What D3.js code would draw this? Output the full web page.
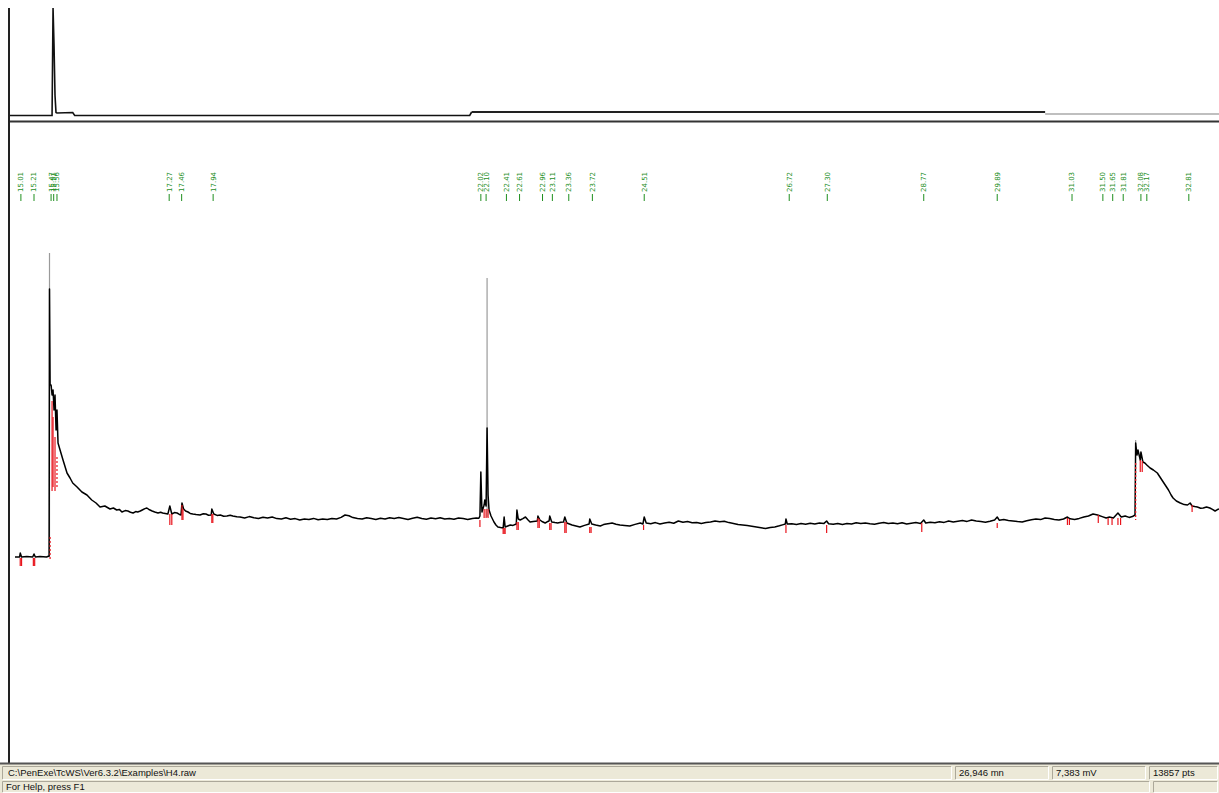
<!DOCTYPE html>
<html>
<head>
    <title>H4.raw chromatogram</title>
    <script src="https://d3js.org/d3.v7.min.js"></script>
    <style>
        body {
            margin: 0;
            background: #fff;
            overflow: hidden;
        }
        svg {
            display: block;
        }
        .peak-label {
            font-family: "DejaVu Sans", sans-serif;
            font-size: 7px;
            fill: #1f8f1f;
        }
        .status-text {
            font-family: "Liberation Sans", Arial, sans-serif;
            font-size: 9.5px;
            fill: #111;
        }
    </style>
</head>
<body>
    <div id="vis-container"></div>

    <script>
        const width = 1219;
        const height = 793;

        // main trace: [retention time (min), signal (mV)]
        const mainTrace = [
            [14.92,0],[14.99,0],[15.00,0.2],[15.02,0],[15.10,0.02],[15.19,0],[15.21,0.15],[15.23,0],[15.30,0.02],[15.40,0],[15.44,0.05],
            [15.446,13.4],[15.455,8.6],[15.47,8.6],[15.485,8.1],[15.50,8.35],[15.515,7.35],[15.53,8.1],[15.546,6.35],[15.56,7.35],[15.576,5.7],
            [15.607,5.35],[15.652,4.85],[15.713,4.2],[15.759,3.95],[15.80,3.7],[15.866,3.5],[15.94,3.25],[16.017,3.1],[16.09,2.85],[16.155,2.7],
            [16.216,2.5],[16.29,2.55],[16.368,2.4],[16.42,2.45],[16.47,2.35],[16.51,2.38],[16.55,2.25],[16.60,2.32],[16.64,2.3],[16.68,2.24],
            [16.72,2.2],[16.76,2.27],[16.79,2.25],[16.83,2.3],[16.86,2.35],[16.90,2.42],[16.93,2.45],[16.97,2.36],[17.01,2.3],[17.05,2.25],
            [17.10,2.2],[17.14,2.24],[17.17,2.2],[17.21,2.18],[17.25,2.15],[17.28,2.55],[17.31,2.15],[17.35,2.22],[17.39,2.2],[17.42,2.14],
            [17.45,2.1],[17.465,2.7],[17.49,2.4],[17.52,2.3],[17.557,2.25],[17.59,2.18],[17.63,2.15],[17.68,2.12],[17.74,2.1],[17.79,2.16],
            [17.83,2.15],[17.87,2.09],[17.91,2.1],[17.92,2.4],[17.95,2.15],[18.00,2.08],[18.05,2.1],[18.10,2.04],[18.15,2.05],[18.20,2.09],
            [18.24,2.05],[18.30,2.01],
            [18.35,2.0],[18.42,1.95],[18.49,2.02],[18.56,1.96],[18.63,1.93],[18.70,1.99],[18.77,1.95],[18.84,2.0],[18.91,1.92],[18.98,1.9],
            [19.05,1.96],[19.12,1.89],[19.19,1.92],[19.26,1.85],[19.33,1.9],[19.40,1.88],[19.47,1.93],[19.54,1.86],[19.61,1.9],[19.68,1.87],
            [19.75,1.93],[19.82,1.9],[19.89,1.98],[19.95,2.1],[20.01,2.06],[20.07,1.97],[20.14,1.92],[20.21,1.9],[20.28,1.96],[20.35,1.93],
            [20.42,1.88],[20.49,1.94],[20.56,1.9],[20.63,1.96],[20.70,1.92],[20.77,1.97],[20.84,1.93],[20.91,1.88],[20.98,1.94],[21.05,1.99],
            [21.12,1.93],[21.19,1.89],[21.26,1.95],[21.33,1.91],[21.40,1.96],[21.47,1.9],[21.54,1.93],[21.61,1.89],[21.68,1.95],[21.75,1.92],
            [21.82,1.88],[21.89,1.93],[21.95,1.95],[21.99,1.94],
            [22.006,2.05],[22.02,4.25],[22.037,2.25],[22.07,2.6],[22.08,2.85],[22.10,2.55],[22.115,6.45],[22.13,3.1],[22.145,2.35],[22.175,2.05],
            [22.22,1.75],[22.25,1.6],[22.28,1.5],[22.32,1.47],[22.36,1.45],[22.375,2.0],[22.39,1.5],[22.43,1.55],[22.47,1.6],[22.51,1.58],
            [22.56,1.65],[22.57,2.35],[22.59,1.9],[22.62,1.85],[22.66,1.92],[22.70,2.0],[22.74,1.85],[22.77,1.75],[22.82,1.78],[22.88,1.8],
            [22.89,2.05],[22.92,1.85],[22.96,1.76],[23.00,1.7],[23.03,1.76],[23.06,1.8],[23.07,2.05],[23.10,1.75],[23.15,1.72],[23.19,1.7],
            [23.24,1.74],[23.28,1.75],[23.30,2.0],[23.33,1.7],[23.37,1.65],[23.41,1.6],[23.47,1.55],[23.53,1.5],[23.60,1.58],[23.67,1.65],
            [23.68,1.9],[23.71,1.65],[23.77,1.6],[23.84,1.55],[23.89,1.62],[23.93,1.65],[23.98,1.68],[24.02,1.7],[24.08,1.64],[24.14,1.6],
            [24.21,1.58],[24.29,1.55],[24.37,1.63],[24.45,1.7],[24.49,1.65],[24.51,2.0],
            [24.54,1.7],[24.61,1.66],[24.68,1.72],[24.75,1.65],[24.82,1.7],[24.89,1.74],[24.96,1.69],[25.03,1.8],[25.10,1.74],[25.17,1.77],
            [25.24,1.71],[25.31,1.73],[25.38,1.68],[25.45,1.72],[25.52,1.75],[25.59,1.8],[25.66,1.76],[25.73,1.79],[25.80,1.72],[25.87,1.68],
            [25.94,1.62],[26.01,1.6],[26.08,1.57],[26.15,1.54],[26.22,1.5],[26.29,1.46],[26.36,1.42],[26.43,1.47],[26.50,1.5],[26.57,1.56],
            [26.63,1.62],[26.66,1.65],[26.67,1.9],[26.69,1.65],[26.76,1.66],[26.83,1.63],[26.90,1.67],[26.97,1.64],[27.04,1.69],[27.11,1.65],
            [27.18,1.7],[27.25,1.68],[27.29,1.8],[27.32,1.66],[27.39,1.64],[27.46,1.68],[27.53,1.63],[27.60,1.67],[27.67,1.65],[27.74,1.71],
            [27.81,1.67],[27.88,1.7],[27.95,1.66],[28.02,1.64],[28.09,1.69],[28.16,1.72],[28.23,1.67],[28.30,1.7],[28.37,1.66],[28.44,1.71],
            [28.51,1.65],[28.58,1.69],[28.65,1.72],[28.72,1.68],[28.77,1.85],[28.80,1.7],[28.87,1.74],[28.94,1.71],[29.01,1.76],[29.08,1.73],
            [29.15,1.8],[29.22,1.75],[29.29,1.79],[29.36,1.82],[29.43,1.78],[29.50,1.85],[29.57,1.8],[29.64,1.77],[29.71,1.74],[29.78,1.79],
            [29.85,1.85],[29.89,2.0],[29.92,1.84],[29.99,1.87],[30.06,1.83],[30.13,1.8],[30.20,1.77],[30.27,1.75],[30.34,1.81],[30.41,1.86],
            [30.48,1.9],[30.55,1.87],[30.62,1.95],[30.69,1.92],[30.76,1.88],[30.83,1.85],[30.90,1.9],[30.96,2.0],[31.00,1.91],[31.07,1.88],
            [31.14,1.93],[31.21,2.0],[31.28,2.05],[31.35,2.15],[31.42,2.1],[31.49,2.02],[31.55,1.95],[31.60,2.0],[31.66,1.95],[31.73,2.2],
            [31.78,2.0],[31.84,2.05],[31.90,1.98],[31.95,2.02],[31.99,2.1],
            [32.00,5.7],[32.02,5.1],[32.035,5.35],[32.07,4.85],[32.08,5.25],[32.11,4.75],[32.14,4.7],[32.17,4.6],[32.22,4.45],[32.27,4.35],
            [32.33,4.2],[32.38,3.95],[32.42,3.75],[32.46,3.55],[32.50,3.35],[32.54,3.1],[32.57,2.95],[32.62,2.8],[32.68,2.7],[32.74,2.62],
            [32.79,2.6],[32.83,2.7],[32.86,2.55],[32.90,2.52],[32.94,2.5],[32.99,2.44],[33.03,2.45],[33.08,2.5],[33.13,2.45],[33.17,2.38],
            [33.21,2.3],[33.24,2.36],[33.27,2.4]
        ];

        // thin apex of the sharp peaks: [time, from, to]
        const spikeTops = [[15.446, 0, 15.2], [22.115, 2.0, 13.95], [32.0, 5.6, 5.85]];

        // overview trace in the top strip
        const overviewTrace = [
            [14.844,0],[15.485,0],[15.50,10.75],[15.515,7.0],[15.53,2.0],[15.545,0.3],[15.56,0.25],[15.80,0.3],
            [15.83,0],[21.85,0],[21.88,0.35]
        ];
        const overviewRaised = [[21.88,0.35],[30.62,0.35]];
        const overviewTail = [[30.62,0.15],[33.27,0.15]];

        // integrated peaks
        const peakTimes = [15.01, 15.21, 15.47, 15.51, 15.56, 17.27, 17.46, 17.94, 22.02, 22.10, 22.41, 22.61, 22.96, 23.11,
            23.36, 23.72, 24.51, 26.72, 27.30, 28.77, 29.89, 31.03, 31.50, 31.65, 31.81, 32.08, 32.17, 32.81];

        // red baseline marks: [time, top, bottom]
        const peakMarks = [
            [15.00,-0.05,-0.45],[15.02,-0.05,-0.45],[15.20,-0.05,-0.45],[15.22,-0.05,-0.45],
            [15.485,7.8,3.3],[15.50,7.0,3.5],[15.53,6.0,3.3],
            [17.28,2.15,1.6],[17.31,2.15,1.6],[17.465,2.6,1.85],[17.48,2.4,1.85],[17.92,2.15,1.7],[17.935,2.15,1.7],
            [22.006,1.85,1.5],[22.07,2.4,1.95],[22.10,2.4,1.95],[22.13,2.4,1.95],
            [22.36,1.45,1.15],[22.375,1.45,1.15],[22.39,1.45,1.15],[22.57,1.75,1.35],[22.59,1.75,1.35],
            [22.89,1.95,1.45],[22.91,1.9,1.45],[23.07,1.7,1.35],[23.09,1.7,1.35],[23.30,1.75,1.2],[23.32,1.75,1.2],
            [23.68,1.5,1.2],[23.70,1.5,1.2],[24.50,1.6,1.35],[26.67,1.6,1.2],[27.29,1.6,1.2],[28.74,1.7,1.25],[29.89,1.7,1.45],
            [30.96,1.95,1.6],[30.99,1.9,1.6],[31.43,2.1,1.7],[31.58,1.95,1.6],[31.64,1.95,1.6],[31.73,1.95,1.6],[31.77,1.95,1.6],
            [32.07,4.85,4.25],[32.10,4.8,4.25],[32.86,2.6,2.25]
        ];
        const peakDashes = [[15.455,1.0,-0.15],[15.56,5.0,3.4],[32.00,4.7,1.85]];

        const statusFile = "C:\\PenExe\\TcWS\\Ver6.3.2\\Examples\\H4.raw";
        const statusFields = ["26,946 mn", "7,383 mV", "13857 pts"];
        const statusHelp = "For Help, press F1";

        const svg = d3.select('#vis-container')
            .append('svg')
            .attr('width', width)
            .attr('height', height)
            .attr('viewBox', [0, 0, width, height]);

        const x = d3.scaleLinear().domain([14.844, 33.27]).range([10, 1219]);
        const y = d3.scaleLinear().domain([0, 20]).range([557, 157]);
        const yTop = d3.scaleLinear().domain([0, 10.75]).range([115.5, 8]);

        svg.append('clipPath').attr('id', 'plot-clip')
            .append('rect').attr('x', 10).attr('y', 0).attr('width', width - 10).attr('height', 764);

        // top overview strip
        const strip = svg.append('g').attr('clip-path', 'url(#plot-clip)');
        const stripLine = d3.line().x(d => x(d[0])).y(d => yTop(d[1]));
        strip.append('path').datum(overviewTail)
            .attr('d', stripLine).attr('fill', 'none').attr('stroke', '#aaa').attr('stroke-width', 1.5);
        strip.append('path').datum(overviewTrace)
            .attr('d', stripLine).attr('fill', 'none').attr('stroke', '#111').attr('stroke-width', 1.6);
        strip.append('path').datum(overviewRaised)
            .attr('d', stripLine).attr('fill', 'none').attr('stroke', '#222').attr('stroke-width', 2.2);

        // separator between strip and main view
        svg.append('line').attr('x1', 10).attr('x2', width).attr('y1', 121.5).attr('y2', 121.5)
            .attr('stroke', '#333').attr('stroke-width', 2);

        // peak labels
        const labels = svg.selectAll('g.peak')
            .data(peakTimes)
            .join('g')
            .attr('class', 'peak')
            .attr('transform', d => `translate(${x(d)},0)`);
        labels.append('line')
            .attr('y1', 194).attr('y2', 201)
            .attr('stroke', '#1f8f1f').attr('stroke-width', 1);
        labels.append('text')
            .attr('class', 'peak-label')
            .attr('transform', 'translate(0,192) rotate(-90)')
            .attr('dy', '0.35em')
            .text(d => d.toFixed(2));

        // main trace
        const main = svg.append('g').attr('clip-path', 'url(#plot-clip)');
        main.selectAll('line.spike')
            .data(spikeTops)
            .join('line')
            .attr('class', 'spike')
            .attr('x1', d => x(d[0])).attr('x2', d => x(d[0]))
            .attr('y1', d => y(d[1])).attr('y2', d => y(d[2]))
            .attr('stroke', '#9a9a9a').attr('stroke-width', 1.2);

        const line = d3.line().x(d => x(d[0])).y(d => y(d[1]));
        main.append('path').datum(mainTrace)
            .attr('d', line)
            .attr('fill', 'none')
            .attr('stroke', '#000')
            .attr('stroke-width', 1.5)
            .attr('stroke-linejoin', 'round');

        main.selectAll('line.mark')
            .data(peakMarks)
            .join('line')
            .attr('class', 'mark')
            .attr('x1', d => x(d[0])).attr('x2', d => x(d[0]))
            .attr('y1', d => y(d[1])).attr('y2', d => y(d[2]))
            .attr('stroke', '#e8141c').attr('stroke-width', 1.2);
        main.selectAll('line.dash')
            .data(peakDashes)
            .join('line')
            .attr('class', 'dash')
            .attr('x1', d => x(d[0])).attr('x2', d => x(d[0]))
            .attr('y1', d => y(d[1])).attr('y2', d => y(d[2]))
            .attr('stroke', '#e8141c').attr('stroke-width', 1.2)
            .attr('stroke-dasharray', '2,2');

        // left axis line
        svg.append('line').attr('x1', 9).attr('x2', 9).attr('y1', 8).attr('y2', 764)
            .attr('stroke', '#222').attr('stroke-width', 2);

        // status bar
        const bar = svg.append('g');
        bar.append('rect').attr('x', 0).attr('y', 764).attr('width', width).attr('height', height - 764)
            .attr('fill', '#ece9d8');
        bar.append('line').attr('x1', 0).attr('x2', width).attr('y1', 763.5).attr('y2', 763.5)
            .attr('stroke', '#555').attr('stroke-width', 2);

        const panels = [
            { x0: 2, x1: 952, y0: 766, y1: 780 },
            { x0: 955, x1: 1049, y0: 766, y1: 780 },
            { x0: 1052, x1: 1146, y0: 766, y1: 780 },
            { x0: 1149, x1: 1218, y0: 766, y1: 780 },
            { x0: 2, x1: 1150, y0: 781, y1: 793 },
            { x0: 1153, x1: 1218, y0: 781, y1: 793 }
        ];
        panels.forEach(p => {
            bar.append('path')
                .attr('d', `M${p.x0 + 0.5},${p.y1 - 0.5}V${p.y0 + 0.5}H${p.x1 - 0.5}`)
                .attr('fill', 'none').attr('stroke', '#aca899');
            bar.append('path')
                .attr('d', `M${p.x1 - 0.5},${p.y0 + 0.5}V${p.y1 - 0.5}H${p.x0 + 0.5}`)
                .attr('fill', 'none').attr('stroke', '#fff');
        });

        bar.append('text').attr('class', 'status-text').attr('x', 8).attr('y', 776).text(statusFile);
        bar.selectAll('text.field')
            .data(statusFields)
            .join('text')
            .attr('class', 'status-text field')
            .attr('x', (d, i) => panels[i + 1].x0 + 4)
            .attr('y', 776)
            .text(d => d);
        bar.append('text').attr('class', 'status-text').attr('x', 6).attr('y', 790).text(statusHelp);
    </script>
</body>
</html>
